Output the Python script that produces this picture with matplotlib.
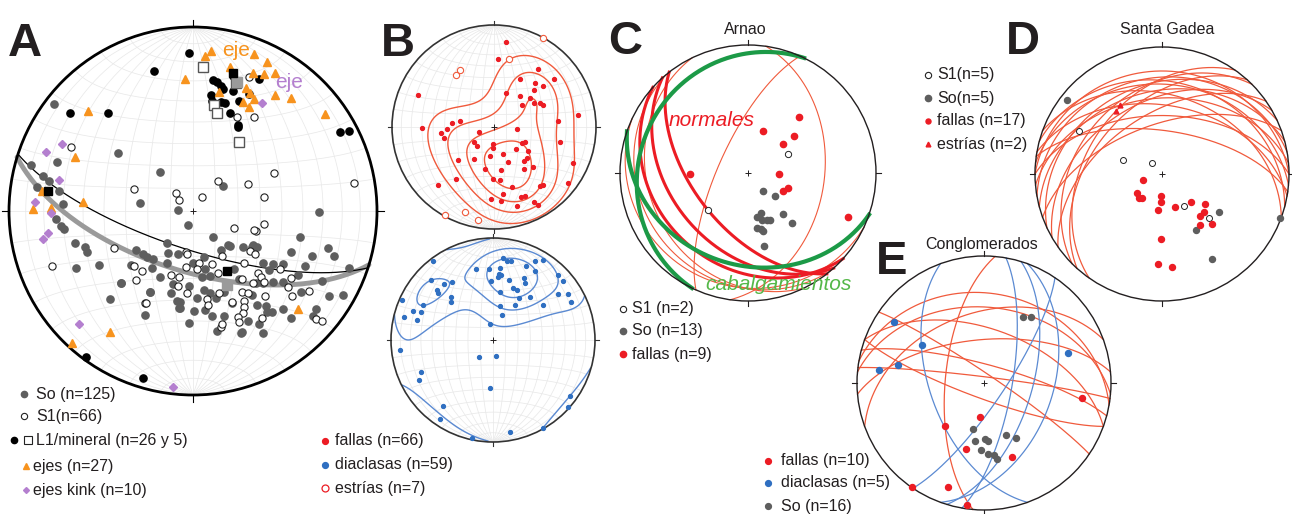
import numpy as np
import matplotlib.pyplot as plt
from matplotlib.patches import Circle

plt.rcParams['font.family'] = ['Liberation Sans', 'DejaVu Sans']

W, H = 1292, 514

# ---------------- data (net coordinates: x east, y north, primitive radius = 1)
# A
a_so = [(-0.754, 0.582), (-0.41, 0.313), (-0.74, 0.265), (-0.88, 0.25), (-0.817, 0.19), (-0.78, 0.163),
        (-0.85, 0.132), (-0.727, 0.11), (-0.18, 0.214), (0.165, 0.137), (-0.29, 0.045), (-0.08, 0.005),
        (0.686, -0.004), (-0.025, -0.076), (-0.708, 0.038), (-0.746, -0.043), (-0.72, -0.082), (-0.70, -0.10),
        (-0.64, -0.172), (-0.587, -0.194), (-0.578, -0.224), (-0.636, -0.308), (-0.51, -0.293), (-0.39, -0.393),
        (-0.234, -0.438), (-0.26, -0.565), (-0.07, -0.529), (0.005, -0.542), (-0.07, -0.493), (0.58, -0.14),
        (0.735, -0.203), (0.766, -0.243), (0.645, -0.243), (0.533, -0.224), (0.814, -0.457), (0.668, -0.534),
        (0.65, -0.569), (0.379, -0.665), (0.26, -0.665), (0.36, -0.614), (0.11, -0.143), (0.20, -0.188),
        (0.273, -0.197), (0.319, -0.194), (-0.143, -0.172), (0.188, -0.185), (0.324, -0.185), (0.346, -0.197),
        (-0.273, -0.234), (-0.252, -0.252), (-0.216, -0.261), (-0.134, -0.227), (-0.08, -0.234), (0.06, -0.252),
        (-0.143, -0.281), (0.002, -0.284), (0.224, -0.317), (0.382, -0.284), (0.436, -0.288), (0.415, -0.321),
        (-0.223, -0.311), (-0.339, -0.293), (0.065, -0.317), (0.092, -0.353), (0.047, -0.357), (0.572, -0.348),
        (0.491, -0.384), (0.342, -0.39), (0.379, -0.39), (0.433, -0.384), (-0.11, -0.398), (-0.022, -0.406),
        (-0.393, -0.39), (-0.121, -0.444), (0.06, -0.429), (0.092, -0.444), (0.123, -0.475), (0.168, -0.438),
        (0.319, -0.457), (0.587, -0.438), (-0.234, -0.44), (-0.089, -0.487), (0.02, -0.475), (-0.076, -0.529),
        (0.065, -0.538), (0.101, -0.571), (0.17, -0.571), (0.346, -0.511), (0.395, -0.516), (0.428, -0.547),
        (0.487, -0.534), (0.265, -0.66), (0.74, -0.46), (0.61, -0.30), (0.49, -0.29), (0.15, -0.21),
        (-0.31, -0.21), (0.21, -0.50), (0.53, -0.58), (0.30, -0.60), (-0.02, -0.61), (0.13, -0.65),
        (0.70, -0.38), (0.40, -0.55), (-0.45, -0.48), (0.25, -0.37), (-0.18, -0.36), (0.85, -0.31)]
a_s1 = [(0.306, 0.73), (0.24, 0.51), (0.33, 0.51), (-0.663, 0.348), (0.44, 0.205), (0.875, 0.154),
        (0.136, 0.165), (0.30, 0.147), (-0.32, 0.12), (-0.094, 0.10), (-0.078, 0.06), (0.05, 0.078),
        (0.386, 0.074), (0.388, -0.072), (0.223, -0.09), (0.342, -0.107), (-0.43, -0.20), (-0.766, -0.297),
        (-0.32, -0.297), (-0.277, -0.326), (-0.308, -0.375), (-0.26, -0.50), (-0.038, -0.223), (-0.03, -0.234),
        (0.333, -0.103), (0.308, -0.216), (0.337, -0.234), (0.156, -0.245), (0.034, -0.281), (0.103, -0.288),
        (0.279, -0.281), (-0.038, -0.306), (0.02, -0.317), (0.134, -0.335), (0.353, -0.335), (0.368, -0.357),
        (0.473, -0.317), (0.531, -0.366), (-0.12, -0.35), (-0.076, -0.357), (0.268, -0.371), (0.328, -0.393),
        (0.388, -0.384), (-0.083, -0.408), (0.515, -0.411), (0.266, -0.438), (0.30, -0.444), (-0.034, -0.447),
        (0.143, -0.444), (0.391, -0.462), (0.538, -0.462), (0.63, -0.433), (-0.257, -0.498), (0.078, -0.48),
        (0.214, -0.493), (0.279, -0.489), (0.083, -0.511), (0.277, -0.52), (0.273, -0.553), (0.246, -0.578),
        (0.373, -0.583), (0.248, -0.602), (0.15, -0.629), (0.159, -0.614), (0.668, -0.589), (0.70, -0.596)]
a_l1 = [(-0.02, 0.86), (-0.21, 0.76), (-0.67, 0.53), (-0.46, 0.53), (0.107, 0.712), (0.216, 0.734),
        (0.357, 0.716), (0.096, 0.63), (0.165, 0.661), (0.219, 0.652), (0.154, 0.594), (0.174, 0.585),
        (0.201, 0.531), (0.246, 0.455), (0.246, 0.47), (0.306, 0.636), (0.15, 0.68), (0.80, 0.43),
        (0.85, 0.435), (-0.58, -0.795), (-0.27, -0.906), (0.105, 0.60), (0.13, 0.70), (0.25, 0.60)]
a_min = [(0.056, 0.78), (0.116, 0.576), (0.129, 0.531), (0.252, 0.377), (0.234, 0.694)]
a_ejes = [(0.096, 0.871), (0.065, 0.842), (-0.043, 0.716), (0.201, 0.784), (0.332, 0.853), (0.404, 0.808),
          (0.328, 0.752), (0.446, 0.752), (0.388, 0.745), (0.143, 0.649), (0.31, 0.64), (0.274, 0.594),
          (0.332, 0.607), (0.306, 0.564), (0.533, 0.612), (0.717, 0.527), (-0.57, 0.543), (-0.64, 0.295),
          (-0.82, 0.11), (-0.596, 0.05), (-0.87, 0.01), (-0.77, 0.015), (0.57, -0.53), (-0.45, -0.66),
          (-0.66, -0.72), (0.288, 0.667), (0.447, 0.63)]
a_kink = [(0.373, 0.589), (-0.714, 0.362), (-0.80, 0.32), (-0.73, 0.167), (-0.86, 0.047), (-0.77, -0.013),
          (-0.79, -0.12), (-0.817, -0.154), (-0.62, -0.614), (-0.11, -0.958)]
a_planes = [(198, 73), (197, 63)]            # dip direction, dip (thin black, thick grey)
a_beta_black = [(0.185, -0.326), (-0.79, 0.11), (0.22, 0.75)]
a_beta_grey = [(0.183, -0.40), (0.238, 0.70)]

# B
b_fallas = [(0.12, 0.83), (0.04, 0.67), (0.43, 0.57), (0.59, 0.47), (0.25, 0.47), (0.40, 0.43), (0.48, 0.40),
            (0.39, 0.36), (0.12, 0.33), (-0.75, 0.31), (0.25, 0.30), (0.35, 0.28), (0.39, 0.24), (0.45, 0.24),
            (0.48, 0.22), (0.27, 0.22), (0.82, 0.12), (0.63, 0.06), (-0.33, 0.06), (-0.41, 0.04), (-0.71, -0.01),
            (-0.46, -0.02), (-0.52, -0.06), (-0.15, -0.05), (0.23, -0.02), (-0.49, -0.11), (-0.20, -0.15),
            (0.30, -0.15), (0.27, -0.16), (-0.17, -0.19), (-0.01, -0.17), (0.65, -0.15), (-0.01, -0.21),
            (0.22, -0.22), (0.33, -0.24), (0.09, -0.26), (-0.04, -0.28), (0.32, -0.30), (-0.20, -0.31),
            (-0.35, -0.32), (0.14, -0.34), (0.77, -0.35), (0.29, -0.33), (0.38, -0.39), (-0.09, -0.41),
            (0.29, -0.41), (0.07, -0.42), (-0.37, -0.51), (-0.01, -0.51), (0.06, -0.52), (0.73, -0.55),
            (0.48, -0.57), (0.45, -0.58), (0.18, -0.59), (-0.55, -0.57), (0.09, -0.66), (0.30, -0.68),
            (0.26, -0.69), (-0.03, -0.71), (0.07, -0.73), (0.39, -0.74), (0.23, -0.77), (0.43, -0.76)]
b_estrias = [(0.48, 0.87), (0.15, 0.67), (-0.33, 0.56), (-0.37, 0.51), (-0.48, -0.86), (-0.28, -0.83),
             (-0.16, -0.91)]
b_diaclasas = [(0.10, 0.80), (0.14, 0.77), (0.18, 0.77), (0.41, 0.77), (0.49, 0.78), (-0.59, 0.77),
               (-0.17, 0.70), (-0.04, 0.70), (0.07, 0.71), (0.32, 0.73), (0.41, 0.68), (0.06, 0.65),
               (0.05, 0.62), (0.08, 0.64), (0.30, 0.61), (-0.61, 0.59), (0.16, 0.59), (-0.02, 0.58),
               (0.31, 0.56), (-0.40, 0.57), (-0.48, 0.55), (0.64, 0.64), (0.69, 0.58), (0.20, 0.51),
               (0.24, 0.49), (-0.55, 0.49), (-0.54, 0.46), (0.07, 0.47), (0.36, 0.42), (0.64, 0.45),
               (0.74, 0.45), (-0.41, 0.42), (-0.41, 0.37), (0.25, 0.41), (0.07, 0.33), (0.22, 0.34),
               (0.49, 0.34), (0.76, 0.37), (-0.69, 0.34), (-0.89, 0.39), (-0.78, 0.28), (-0.71, 0.27),
               (-0.87, 0.23), (-0.75, 0.20), (0.09, 0.25), (-0.03, 0.16), (-0.91, -0.10), (-0.14, -0.17),
               (0.03, -0.16), (-0.71, -0.31), (-0.73, -0.39), (-0.03, -0.47), (-0.49, -0.65), (-0.52, -0.77),
               (0.75, -0.55), (0.74, -0.66), (0.49, -0.86), (0.17, -0.90), (-0.21, -0.96)]

# C  Arnao
c_s1 = [(0.31, 0.15), (-0.31, -0.29)]
c_so = [(0.12, -0.14), (0.21, -0.18), (0.10, -0.31), (0.27, -0.32), (0.07, -0.34), (0.11, -0.37),
        (0.15, -0.37), (0.17, -0.37), (0.34, -0.39), (0.07, -0.43), (0.10, -0.44), (0.12, -0.45), (0.125, -0.57)]
c_fallas = [(0.40, 0.44), (0.12, 0.33), (0.36, 0.29), (0.27, 0.23), (-0.45, -0.01), (0.24, -0.01),
            (0.27, -0.14), (0.31, -0.12), (0.78, -0.34)]
c_normales = [(232, 55), (228, 40), (222, 28)]
c_cabalg = [(199, 29), (296, 16)]
c_otras = [(98, 40), (294, 71), (230, 16), (244, 23), (205, 12)]

# D  Santa Gadea
d_s1 = [(-0.65, 0.34), (-0.31, 0.11), (-0.08, 0.09), (0.17, -0.25), (0.37, -0.35)]
d_so = [(-0.75, 0.58), (0.45, -0.30), (0.27, -0.44), (0.39, -0.67), (0.93, -0.35)]
d_fallas = [(-0.15, -0.05), (-0.20, -0.15), (-0.16, -0.19), (-0.01, -0.17), (-0.01, -0.22), (-0.03, -0.28),
            (0.10, -0.26), (0.23, -0.22), (0.34, -0.24), (0.33, -0.30), (0.30, -0.33), (0.30, -0.40),
            (0.39, -0.39), (-0.01, -0.51), (-0.03, -0.71), (0.08, -0.73), (-0.18, -0.19)]
d_estrias = [(-0.33, 0.54), (-0.36, 0.50)]
d_planes = [(0, 20), (5, 30), (355, 40), (0, 52), (8, 62), (350, 25), (10, 45), (345, 35), (15, 28),
            (335, 30), (330, 42), (325, 52), (315, 35), (312, 45), (305, 40), (340, 58), (20, 38)]

# E  Conglomerados
e_fallas = [(-0.03, -0.27), (-0.31, -0.34), (-0.14, -0.52), (0.22, -0.58), (0.77, -0.12), (-0.57, -0.82),
            (-0.28, -0.82), (-0.13, -0.96)]
e_diaclasas = [(-0.71, 0.48), (-0.49, 0.30), (-0.68, 0.14), (-0.83, 0.10), (0.66, 0.24)]
e_so = [(0.31, 0.52), (0.37, 0.52), (-0.09, -0.36), (-0.07, -0.46), (0.01, -0.44), (0.03, -0.46),
        (0.17, -0.41), (0.25, -0.43), (-0.02, -0.53), (0.03, -0.56), (0.08, -0.57), (0.10, -0.60)]
e_planes_f = [(7, 86), (34, 84), (15, 78), (275, 65), (340, 44), (10, 30), (20, 55), (355, 62), (5, 40),
              (200, 80)]
e_planes_d = [(250, 55), (100, 72), (107, 59), (124, 77), (110, 45)]

# ---------------- colours
GREY = '#5e5e5e'
ORANGE = '#f7931e'
PURPLE = '#b47fcf'
RED = '#ec1c24'
BLUE = '#2f6fc1'
LRED = '#f05a3c'
LBLUE = '#5b8ad2'
GREEN = '#1c9a47'
GRID = '#e9e9e9'


# ---------------- equal-area (Schmidt) lower hemisphere helpers
def to_net(v):
    e, n, d = v
    s = np.where(d < 0, -1.0, 1.0)
    e, n, d = e * s, n * s, d * s
    f = 1.0 / np.sqrt(1.0 + d)
    return e * f, n * f


def from_net(x, y):
    d = 1.0 - (x ** 2 + y ** 2)
    f = np.sqrt(np.clip(1.0 + d, 0, None))
    return x * f, y * f, d


def great_circle(dd, dip, n=241):
    a = np.radians(np.linspace(0, 180, n))
    t, p = np.radians(dd), np.radians(dip)
    sv = np.array([np.sin(t - np.pi / 2), np.cos(t - np.pi / 2), 0.0])
    dv = np.array([np.cos(p) * np.sin(t), np.cos(p) * np.cos(t), np.sin(p)])
    v = np.outer(sv, np.cos(a)) + np.outer(dv, np.sin(a))
    return to_net(v)


def small_circle_ns(alpha, n=181):
    ph = np.radians(np.linspace(0, 180, n))
    al = np.radians(alpha)
    v = np.array([np.sin(al) * np.cos(ph), np.cos(al) * np.ones_like(ph), np.sin(al) * np.sin(ph)])
    return to_net(v)


fig = plt.figure(figsize=(W / 100, H / 100), dpi=100)


def net_axes(cx, cy, r, m=1.1):
    ax = fig.add_axes([(cx - r * m) / W, 1 - (cy + r * m) / H, 2 * r * m / W, 2 * r * m / H])
    ax.set_xlim(-m, m)
    ax.set_ylim(-m, m)
    ax.set_aspect('equal')
    ax.axis('off')
    return ax


def primitive(ax, lw=1.0, col='#231f20', grid=False, tick=0.04):
    if grid:
        for d in range(10, 90, 10):
            for dd in (90, 270):
                x, y = great_circle(dd, d)
                ax.plot(x, y, color=GRID, lw=0.55, zorder=1)
        ax.plot([0, 0], [-1, 1], color=GRID, lw=0.55, zorder=1)
        for al in range(10, 180, 10):
            x, y = small_circle_ns(al)
            ax.plot(x, y, color=GRID, lw=0.55, zorder=1)
    c = Circle((0, 0), 1, fill=False, lw=lw, ec=col, zorder=6)
    ax.add_patch(c)
    for (dx, dy) in [(0, 1), (1, 0), (0, -1), (-1, 0)]:
        ax.plot([dx, dx * (1 + tick)], [dy, dy * (1 + tick)], color=col, lw=0.8, zorder=6)
    ax.plot([0], [0], marker='+', ms=5, mew=0.7, color='#231f20', zorder=7)


def pts(ax, data, **kw):
    xy = np.array(data)
    ax.plot(xy[:, 0], xy[:, 1], ls='none', zorder=8, **kw)


def density(data, k):
    xy = np.array(data)
    e, n, d = from_net(xy[:, 0], xy[:, 1])
    g = np.linspace(-1.0, 1.0, 241)
    gx, gy = np.meshgrid(g, g)
    ge, gn, gd = from_net(gx, gy)
    c = np.abs(ge[..., None] * e + gn[..., None] * n + gd[..., None] * d)
    z = np.exp(k * (c - 1)).sum(axis=-1)
    z[gx ** 2 + gy ** 2 > 1.0] = np.nan
    return gx, gy, z / np.nanmax(z)


# ---------------- A
ax = net_axes(193, 211, 184)
primitive(ax, lw=2.0, col='#000000', grid=True)
x, y = great_circle(*a_planes[1])
ax.plot(x, y, color='#9a9a9a', lw=3.5, zorder=4, solid_capstyle='round')
x, y = great_circle(*a_planes[0])
ax.plot(x, y, color='#000000', lw=0.9, zorder=5)
pts(ax, a_so, marker='o', ms=5.2, mfc=GREY, mec=GREY)
pts(ax, a_s1, marker='o', ms=5.2, mfc='white', mec='#222222', mew=0.8)
pts(ax, a_l1, marker='o', ms=5.2, mfc='#000000', mec='#000000')
pts(ax, a_min, marker='s', ms=7.5, mfc='white', mec='#555555', mew=1.0)
pts(ax, a_ejes, marker='^', ms=6, mfc=ORANGE, mec=ORANGE)
pts(ax, a_kink, marker='D', ms=4, mfc=PURPLE, mec=PURPLE)
pts(ax, a_beta_grey, marker='s', ms=6.5, mfc='#9a9a9a', mec='#9a9a9a')
pts(ax, a_beta_black, marker='s', ms=6, mfc='#000000', mec='#000000')

# ---------------- B (fallas, top)
ax = net_axes(494, 127, 102)
primitive(ax, lw=1.2, col='#333333', grid=True)
gx, gy, z = density(b_fallas, 8)
cs = ax.contour(gx, gy, z, levels=[0.33, 0.52, 0.7, 0.87], colors=LRED, linewidths=1.0, zorder=5)
cs.set_clip_path(Circle((0, 0), 1, transform=ax.transData))
pts(ax, b_fallas, marker='o', ms=2.8, mfc=RED, mec=RED)
pts(ax, b_estrias, marker='o', ms=4.5, mfc='white', mec=LRED, mew=0.8)

# ---------------- B (diaclasas, bottom)
ax = net_axes(493, 340, 102)
primitive(ax, lw=1.2, col='#333333', grid=True)
gx, gy, z = density(b_diaclasas, 12)
cs = ax.contour(gx, gy, z, levels=[0.3, 0.55, 0.78], colors=LBLUE, linewidths=1.0, zorder=5)
cs.set_clip_path(Circle((0, 0), 1, transform=ax.transData))
pts(ax, b_diaclasas, marker='o', ms=2.8, mfc=BLUE, mec=BLUE)

# ---------------- C
ax = net_axes(748, 173, 128)
primitive(ax, lw=1.0)
for dd, dp in c_otras:
    x, y = great_circle(dd, dp)
    ax.plot(x, y, color=LRED, lw=0.8, zorder=3)
for dd, dp in c_normales:
    x, y = great_circle(dd, dp)
    ax.plot(x, y, color=RED, lw=2.2, zorder=4)
for dd, dp in c_cabalg:
    x, y = great_circle(dd, dp)
    ax.plot(x, y, color=GREEN, lw=3.0, zorder=5)
pts(ax, c_so, marker='o', ms=4.5, mfc=GREY, mec=GREY)
pts(ax, c_s1, marker='o', ms=4.5, mfc='white', mec='#222222', mew=0.7)
pts(ax, c_fallas, marker='o', ms=4.5, mfc=RED, mec=RED)

# ---------------- D
ax = net_axes(1162, 174, 127)
primitive(ax, lw=1.0)
for dd, dp in d_planes:
    x, y = great_circle(dd, dp)
    ax.plot(x, y, color=LRED, lw=0.9, zorder=3)
pts(ax, d_so, marker='o', ms=4.3, mfc=GREY, mec=GREY)
pts(ax, d_s1, marker='o', ms=4.3, mfc='white', mec='#222222', mew=0.7)
pts(ax, d_fallas, marker='o', ms=4.3, mfc=RED, mec=RED)
pts(ax, d_estrias, marker='^', ms=3.5, mfc=RED, mec=RED)

# ---------------- E
ax = net_axes(984, 383, 127)
primitive(ax, lw=1.0)
for dd, dp in e_planes_f:
    x, y = great_circle(dd, dp)
    ax.plot(x, y, color=LRED, lw=0.9, zorder=3)
for dd, dp in e_planes_d:
    x, y = great_circle(dd, dp)
    ax.plot(x, y, color=LBLUE, lw=0.9, zorder=3)
pts(ax, e_so, marker='o', ms=4.3, mfc=GREY, mec=GREY)
pts(ax, e_diaclasas, marker='o', ms=4.3, mfc=BLUE, mec=BLUE)
pts(ax, e_fallas, marker='o', ms=4.3, mfc=RED, mec=RED)

# ---------------- overlay: letters, titles, legends
ov = fig.add_axes([0, 0, 1, 1])
ov.set_xlim(0, W)
ov.set_ylim(H, 0)
ov.axis('off')

for lab, lx, ly in [('A', 8, 56), ('B', 381, 56), ('C', 608, 54), ('D', 1006, 54), ('E', 876, 274)]:
    ov.text(lx, ly, lab, fontsize=34, fontweight='bold', color='#231f20', va='baseline', ha='left')

for lab, lx, ly in [('Arnao', 745, 30), ('Santa Gadea', 1167, 30), ('Conglomerados', 982, 244)]:
    ov.text(lx, ly, lab, fontsize=11.5, ha='center', va='center', color='#231f20')

ov.text(236, 50, 'eje', fontsize=15, color=ORANGE, ha='center', va='center')
ov.text(289, 82, 'eje', fontsize=15, color=PURPLE, ha='center', va='center')
ov.text(712, 121, 'normales', fontsize=15, color=RED, style='italic', ha='center', va='center')
ov.text(779, 285, 'cabalgamientos', fontsize=15, color='#54b848', style='italic', ha='center', va='center')

FS = 11.5
legend = [
    ([('o', 24, dict(ms=4.5, mfc=GREY, mec=GREY))], 36, 394, 'So (n=125)'),
    ([('o', 24, dict(ms=4.5, mfc='white', mec='#222222', mew=0.8))], 36, 416, 'S1(n=66)'),
    ([('o', 14, dict(ms=4.5, mfc='black', mec='black')), ('s', 28, dict(ms=6, mfc='white', mec='#222222', mew=0.8))],
     36, 440, 'L1/mineral (n=26 y 5)'),
    ([('^', 26, dict(ms=4.5, mfc=ORANGE, mec=ORANGE))], 33, 466, 'ejes (n=27)'),
    ([('D', 26, dict(ms=3, mfc=PURPLE, mec=PURPLE))], 33, 490, 'ejes kink (n=10)'),
    ([('o', 325, dict(ms=4.2, mfc=RED, mec=RED))], 335, 441, 'fallas (n=66)'),
    ([('o', 325, dict(ms=4.2, mfc=BLUE, mec=BLUE))], 335, 465, 'diaclasas (n=59)'),
    ([('o', 325, dict(ms=5, mfc='white', mec=RED, mew=0.9))], 335, 488, 'estrías (n=7)'),
    ([('o', 623, dict(ms=4.5, mfc='white', mec='#222222', mew=0.8))], 632, 309, 'S1 (n=2)'),
    ([('o', 623, dict(ms=4.5, mfc=GREY, mec=GREY))], 632, 331, 'So (n=13)'),
    ([('o', 623, dict(ms=4.5, mfc=RED, mec=RED))], 632, 354, 'fallas (n=9)'),
    ([('o', 928, dict(ms=4.5, mfc='white', mec='#222222', mew=0.8))], 937, 75, 'S1(n=5)'),
    ([('o', 928, dict(ms=4.5, mfc=GREY, mec=GREY))], 937, 98, 'So(n=5)'),
    ([('o', 928, dict(ms=3.6, mfc=RED, mec=RED))], 937, 121, 'fallas (n=17)'),
    ([('^', 928, dict(ms=3.4, mfc=RED, mec=RED))], 937, 144, 'estrías (n=2)'),
    ([('o', 768, dict(ms=4.2, mfc=RED, mec=RED))], 781, 461, 'fallas (n=10)'),
    ([('o', 768, dict(ms=4.2, mfc=BLUE, mec=BLUE))], 781, 483, 'diaclasas (n=5)'),
    ([('o', 768, dict(ms=4.2, mfc=GREY, mec=GREY))], 781, 506, 'So (n=16)'),
]
for marks, tx, ty, lab in legend:
    for mk, mx, kw in marks:
        ov.plot([mx], [ty], marker=mk, ls='none', **kw)
    ov.text(tx, ty, lab, fontsize=FS, ha='left', va='center', color='#231f20')

fig.savefig('out.png', dpi=100)
